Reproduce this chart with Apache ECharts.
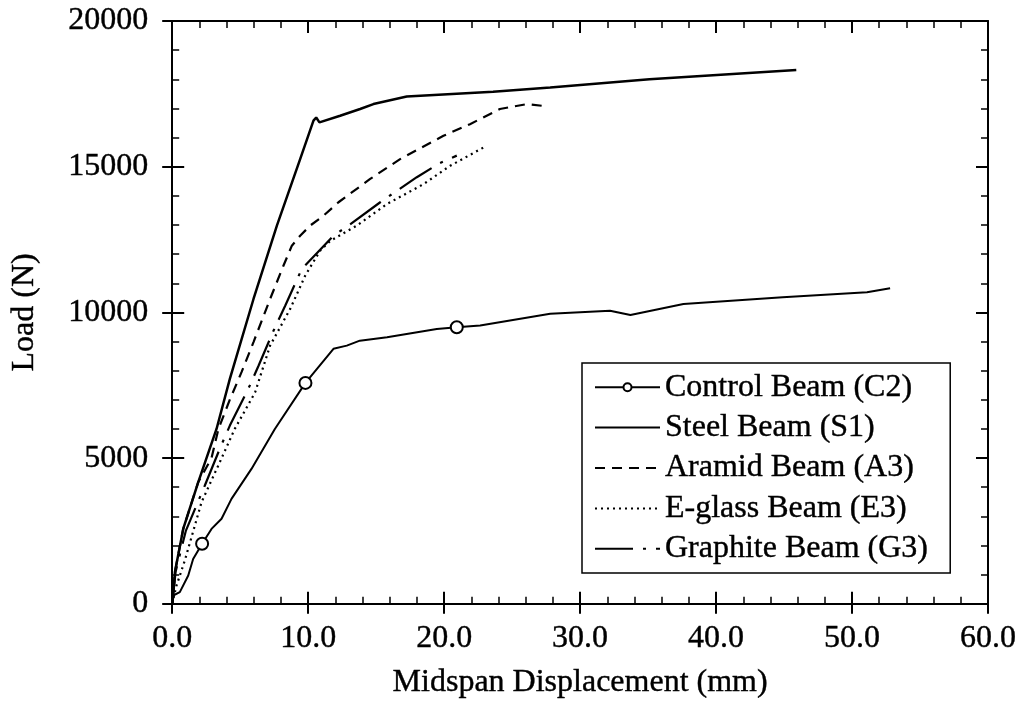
<!DOCTYPE html>
<html>
<head>
<meta charset="utf-8">
<script src="https://cdn.jsdelivr.net/npm/echarts@6/dist/echarts.min.js"></script>
<style>
  html, body { margin: 0; padding: 0; background: #fff; }
  #chart { width: 1026px; height: 704px; }
</style>
</head>
<body>
<div id="chart"></div>
<script>
// Load–displacement curves of the tested beams: [midspan displacement (mm), load (N)]
const controlBeam = [
  [0, 0], [0.07, 285], [0.56, 400], [1.18, 970], [1.54, 1540], [2.2, 2060],
  [2.89, 2570], [3.63, 2920], [4.36, 3600], [5.83, 4630], [7.55, 6000], [9.8, 7580],
  [11.86, 8750], [12.84, 8860], [13.8, 9030], [15.8, 9150], [19.46, 9430], [20.93, 9490],
  [22.65, 9550], [27.8, 9950], [32.2, 10060], [33.7, 9910], [37.6, 10290],
  [44.9, 10520], [51.1, 10690], [52.8, 10830]
];
// points of the control curve drawn with an open circle
const controlMarkIdx = [5, 11, 17];

const steelBeam = [
  [0, 0], [0.07, 285], [0.2, 1090], [0.81, 2570], [1.91, 4170], [3.26, 6000],
  [4.24, 7720], [5.98, 10460], [7.7, 12980], [9.41, 15260], [10.39, 16580],
  [10.59, 16690], [10.83, 16520], [12.35, 16750], [13.82, 16980], [14.8, 17150],
  [17.25, 17410], [23.6, 17570], [27.8, 17720], [35.1, 18000], [45.9, 18320]
];

const aramidBeam = [
  [0, 0], [0.07, 285], [0.2, 1090], [0.81, 2570], [1.91, 4170], [2.89, 5000],
  [3.4, 6000], [4.26, 7030], [5.1, 7950], [5.98, 8980], [7.2, 10460], [8.18, 11600],
  [8.8, 12290], [9.41, 12630], [10.15, 12980], [11.13, 13320], [12.23, 13780],
  [14.56, 14580], [16.76, 15260], [19.95, 16060], [21.9, 16460], [24.1, 16980],
  [26.1, 17150], [27.55, 17070]
];

const eglassBeam = [
  [0, 0], [0.3, 600], [0.93, 1490], [2.16, 3490], [3.5, 4860], [4.6, 6000],
  [6.1, 7260], [7.2, 8860], [8.68, 10120], [9.78, 11260], [10.88, 12120],
  [11.62, 12450], [13.58, 12980], [15.8, 13720], [18.48, 14400], [20.44, 15030],
  [22.9, 15660]
];

const graphiteBeam = [
  [0, 0], [0.25, 1100], [1.0, 2500], [2.4, 4060], [3.5, 5320], [4.24, 6115],
  [5.59, 7370], [6.35, 8170], [7.45, 9370], [8.31, 10230], [9.53, 11490],
  [10.88, 12150], [11.86, 12630], [12.96, 12980], [15.3, 13780], [17.99, 14640],
  [19.7, 15130], [20.93, 15380]
];

const seriesNames = [
  'Control Beam (C2)', 'Steel Beam (S1)', 'Aramid Beam (A3)',
  'E-glass Beam (E3)', 'Graphite Beam (G3)'
];

const xMin = 0, xMax = 60, xStep = 10;
const yMin = 0, yMax = 20000, yStep = 5000;

const FONT = 'Liberation Serif';
const INK = '#000';
// slightly heavier glyphs than the plain regular face
const inkText = { fontFamily: FONT, fontSize: 32, color: INK, textBorderColor: INK, textBorderWidth: 0.4 };

function xAxisBase(extra) {
  return Object.assign({
    type: 'value', min: xMin, max: xMax, interval: xStep,
    splitLine: { show: false },
    axisLine: { show: true, onZero: false, lineStyle: { color: INK, width: 2 } },
    axisTick: { show: true, inside: true, length: 12, lineStyle: { color: INK, width: 2 } },
    minorTick: { show: true, splitNumber: 5, length: 7, lineStyle: { color: INK, width: 1.5 } },
    minorSplitLine: { show: false },
    axisLabel: { show: false }
  }, extra);
}
function yAxisBase(extra) {
  return Object.assign({
    type: 'value', min: yMin, max: yMax, interval: yStep,
    splitLine: { show: false },
    axisLine: { show: true, onZero: false, lineStyle: { color: INK, width: 2 } },
    axisTick: { show: true, inside: true, length: 12, lineStyle: { color: INK, width: 2 } },
    minorTick: { show: true, splitNumber: 5, length: 7, lineStyle: { color: INK, width: 1.5 } },
    minorSplitLine: { show: false },
    axisLabel: { show: false }
  }, extra);
}
// outward half of the major ticks, drawn by an extra axis without line
const outward = {
  axisLine: { show: false },
  axisTick: { show: true, inside: false, length: 10, lineStyle: { color: INK, width: 2 } },
  minorTick: { show: false }
};

const chart = echarts.init(document.getElementById('chart'), null, { renderer: 'canvas' });

const option = {
  backgroundColor: '#fff',
  animation: false,
  textStyle: { fontFamily: FONT, color: INK },
  grid: { left: 172, right: 38, top: 21, bottom: 99, containLabel: false },
  legend: {
    orient: 'vertical',
    left: 582, top: 363,
    padding: [8, 22, 8, 12],
    itemGap: 8,
    itemWidth: 65,
    itemHeight: 10,
    borderColor: INK,
    borderWidth: 1.5,
    backgroundColor: '#fff',
    // only the control curve carries a marker in its key
    data: seriesNames.map((n, i) => i === 0 ? { name: n } : { name: n, itemStyle: { opacity: 0 } }),
    textStyle: Object.assign({ lineHeight: 32 }, inkText)
  },
  xAxis: [
    xAxisBase({
      position: 'bottom',
      name: 'Midspan Displacement (mm)',
      nameLocation: 'middle',
      nameGap: 63,
      nameTextStyle: inkText,
      axisLabel: Object.assign({
        show: true, margin: 19,
        formatter: v => v.toFixed(1)
      }, inkText)
    }),
    xAxisBase(Object.assign({ position: 'bottom' }, outward)),
    xAxisBase({ position: 'top' }),
    xAxisBase(Object.assign({ position: 'top' }, outward))
  ],
  yAxis: [
    yAxisBase({
      position: 'left',
      name: 'Load (N)',
      nameLocation: 'middle',
      nameGap: 132,
      nameTextStyle: inkText,
      axisLabel: Object.assign({ show: true, margin: 24, formatter: v => String(v) }, inkText)
    }),
    yAxisBase(Object.assign({ position: 'left' }, outward)),
    yAxisBase({ position: 'right' }),
    yAxisBase(Object.assign({ position: 'right' }, outward))
  ],
  series: [
    {
      name: seriesNames[0], type: 'line', data: controlBeam,
      symbol: 'emptyCircle',
      symbolSize: (v, p) => controlMarkIdx.indexOf(p.dataIndex) >= 0 ? 12 : 0,
      showSymbol: true,
      itemStyle: { color: INK, borderColor: INK, borderWidth: 2 },
      lineStyle: { color: INK, width: 2, type: 'solid' },
      z: 3
    },
    {
      name: seriesNames[1], type: 'line', data: steelBeam, symbol: 'none',
      itemStyle: { color: INK },
      lineStyle: { color: INK, width: 2.5, type: 'solid' }
    },
    {
      name: seriesNames[2], type: 'line', data: aramidBeam, symbol: 'none',
      itemStyle: { color: INK },
      lineStyle: { color: INK, width: 2.2, type: [10, 7] }
    },
    {
      name: seriesNames[3], type: 'line', data: eglassBeam, symbol: 'none',
      itemStyle: { color: INK },
      lineStyle: { color: INK, width: 2.2, type: [2, 4] }
    },
    {
      name: seriesNames[4], type: 'line', data: graphiteBeam, symbol: 'none',
      itemStyle: { color: INK },
      lineStyle: { color: INK, width: 2.2, type: [38, 10, 3, 10] }
    }
  ]
};

chart.setOption(option);
</script>
</body>
</html>
